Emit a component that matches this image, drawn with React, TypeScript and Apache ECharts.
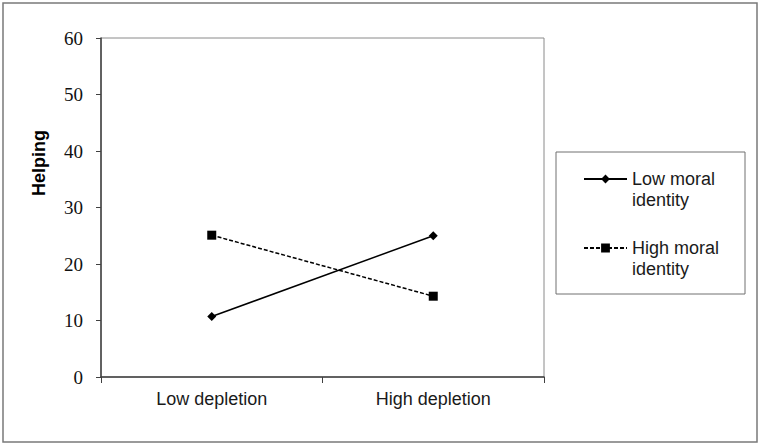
import React, { useEffect, useRef } from "react";
import * as echarts from "echarts";

const categories = ["Low depletion", "High depletion"];
const lowMoral = [10.7, 25.0];
const highMoral = [25.1, 14.3];
const seriesNames = ["Low moral\nidentity", "High moral\nidentity"];
const yTicks = { min: 0, max: 60, interval: 10 };
const yTitle = "Helping";

export default function App() {
  const ref = useRef<HTMLDivElement>(null);
  useEffect(() => {
    document.body.style.margin = "0";
    const chart = echarts.init(ref.current!, null, { renderer: "svg" });
    chart.setOption({
      animation: false,
      backgroundColor: "#ffffff",
      grid: {
        left: 101,
        top: 38,
        width: 443,
        height: 339,
        show: true,
        borderColor: "#8a8a8a",
        borderWidth: 1,
      },
      xAxis: {
        type: "category",
        data: categories,
        boundaryGap: true,
        axisLine: { show: true, lineStyle: { color: "#404040", width: 1.5 } },
        axisTick: { show: true, inside: false, length: 6, lineStyle: { color: "#404040", width: 1 } },
        axisLabel: {
          margin: 13,
          fontFamily: "Liberation Sans",
          fontSize: 18,
          color: "#1a1a1a",
        },
        splitLine: { show: false },
      },
      yAxis: {
        type: "value",
        min: yTicks.min,
        max: yTicks.max,
        interval: yTicks.interval,
        axisLine: { show: true, lineStyle: { color: "#404040", width: 1.5 } },
        axisTick: { show: true, inside: false, length: 5, lineStyle: { color: "#404040", width: 1 } },
        axisLabel: {
          margin: 18,
          fontFamily: "Liberation Serif",
          fontSize: 19,
          color: "#111",
        },
        splitLine: { show: false },
      },
      legend: {
        orient: "vertical",
        left: 583,
        top: 147.5,
        padding: 0,
        itemGap: 6,
        itemWidth: 43,
        itemHeight: 11,
        formatter: (name: string) => "\n" + name,
        textStyle: {
          fontFamily: "Liberation Sans",
          fontSize: 18,
          lineHeight: 21,
          color: "#1a1a1a",
        },
        data: seriesNames,
      },
      graphic: [
        {
          type: "rect",
          shape: { x: 3, y: 3, width: 754, height: 439 },
          style: { fill: "none", stroke: "#7a7a7a", lineWidth: 1.5 },
          silent: true,
          z: -1,
        },
        {
          type: "rect",
          shape: { x: 556, y: 152, width: 189, height: 142 },
          style: { fill: "none", stroke: "#707070", lineWidth: 1 },
          silent: true,
        },
        {
          type: "text",
          x: 39,
          y: 163,
          rotation: Math.PI / 2,
          style: {
            text: yTitle,
            font: "bold 18px 'Liberation Sans'",
            fill: "#000",
            align: "center",
            verticalAlign: "middle",
          },
        },
      ],
      series: [
        {
          name: seriesNames[0],
          type: "line",
          data: lowMoral,
          symbol: "diamond",
          symbolSize: 9,
          itemStyle: { color: "#000" },
          lineStyle: { color: "#000", width: 1.5, type: "solid" },
        },
        {
          name: seriesNames[1],
          type: "line",
          data: highMoral,
          symbol: "rect",
          symbolSize: 9,
          itemStyle: { color: "#000" },
          lineStyle: { color: "#000", width: 1.5, type: [4, 2] },
        },
      ],
    });
    return () => chart.dispose();
  }, []);
  return <div ref={ref} style={{ width: 760, height: 445 }} />;
}
